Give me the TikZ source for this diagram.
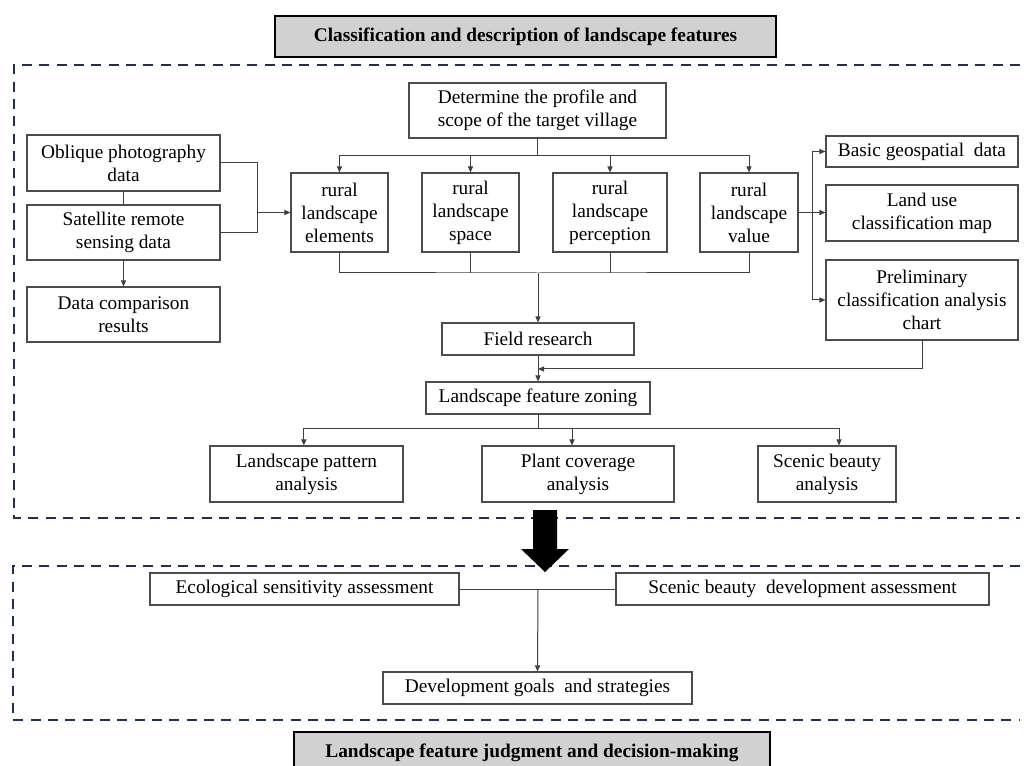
\documentclass[tikz,border=0pt]{standalone}
\usepackage{fontspec}
\setmainfont{Liberation Serif}
\usetikzlibrary{arrows.meta}
\definecolor{navy}{RGB}{31,48,80}
\begin{document}
\begin{tikzpicture}[x=0.75pt,y=-0.75pt,
  box/.style={draw=black!70, line width=0.8pt, fill=white, align=center, inner sep=0pt,
    font=\fontsize{14.5}{17.3}\selectfont},
  bx/.style 2 args={minimum width=#1*0.75pt, minimum height=#2*0.75pt},
  conn/.style={draw=black!75, line width=0.75pt},
  arr/.style={conn, -{Triangle[length=4.5pt,width=3.8pt]}},
  dbox/.style={draw=navy, line width=1.6pt, dash pattern=on 7.5pt off 5.5pt},
  titlebox/.style={draw=black, line width=1.6pt, fill=black!18, inner sep=0pt,
    font=\bfseries\fontsize{14.5}{17}\selectfont},
]
\useasboundingbox (0,0) rectangle (1024,766);
% dashed frames (open on the right)
\draw[dbox] (1020,65) -- (14,65) -- (14,518) -- (1020,518);
\draw[dbox] (1020,566) -- (13,566) -- (13,720) -- (1020,720);
% titles
\node[titlebox, bx={501}{41}] (t1) at (525.5,36.5) {Classification and description of landscape features};
\node[titlebox, bx={476}{41}] (t2) at (532,752.5) {Landscape feature judgment and decision-making};
% nodes
\node[box, bx={257}{55}] (det) at (537.5,110.5) {Determine the profile and\\scope of the target village};
\node[box, bx={193}{56}] (obl) at (123.5,163) {Oblique photography\\data};
\node[box, bx={193}{55}] (sat) at (123.5,232.5) {Satellite remote\\sensing data};
\node[box, bx={193}{55}] (dc) at (123.5,314.5) {Data comparison\\results};
\node[box, bx={97}{79}] (e1) at (339.5,212.5) {rural\\landscape\\elements};
\node[box, bx={97}{79}] (e2) at (470.5,212.5) {rural\\landscape\\space};
\node[box, bx={114}{79}] (e3) at (610,212.5) {rural\\landscape\\perception};
\node[box, bx={98}{79}] (e4) at (749,212.5) {rural\\landscape\\value};
\node[box, bx={192}{31}] (geo) at (922,151.5) {Basic geospatial\ \ data};
\node[box, bx={192}{56}] (lu) at (922,213) {Land use\\classification map};
\node[box, bx={192}{80}] (pre) at (922,300) {Preliminary\\classification analysis\\chart};
\node[box, bx={192}{32}] (fr) at (538,339) {Field research};
\node[box, bx={224}{32}] (zon) at (538,398) {Landscape feature zoning};
\node[box, bx={193}{56}] (p1) at (306.5,474) {Landscape pattern\\analysis};
\node[box, bx={192}{56}] (p2) at (578,474) {Plant coverage\\analysis};
\node[box, bx={138}{56}] (p3) at (827,474) {Scenic beauty\\analysis};
\node[box, bx={309}{32}] (eco) at (304.5,589) {Ecological sensitivity assessment};
\node[box, bx={373}{32}] (sdev) at (802.5,589) {Scenic beauty\ \ development assessment};
\node[box, bx={309}{32}] (dg) at (537.5,688) {Development goals\ \ and strategies};
% connectors: top fan
\draw[arr] (det.south) -- ++(0,17) -| (e1.north);
\draw[arr] (det.south) -- ++(0,17) -| (e2.north);
\draw[arr] (det.south) -- ++(0,17) -| (e3.north);
\draw[arr] (det.south) -- ++(0,17) -| (e4.north);
% join below rural boxes
\coordinate (jb) at (538,273);
\draw[conn] (e1.south) |- (jb) -| (e4.south);
\draw[conn] (e2.south) -- (e2.south |- jb);
\draw[conn] (e3.south) -- (e3.south |- jb);
\draw[arr] (jb) -- (fr.north);
% left data
\coordinate (jl) at (257,212.5);
\draw[conn] (obl.east) -| (jl);
\draw[conn] (sat.east) -| (jl);
\draw[arr] (jl) -- (e1.west);
\draw[conn] (obl.south) -- (sat.north);
\draw[arr] (sat.south) -- (dc.north);
% right outputs
\coordinate (jr) at (812,212.5);
\draw[conn] (e4.east) -- (jr);
\draw[arr] (jr) |- (geo.west);
\draw[arr] (jr) -- (lu.west |- jr);
\draw[arr] (jr) |- (pre.west);
% preliminary back to main line
\coordinate (jz) at (538,369);
\draw[arr] (pre.south) |- (jz);
\draw[arr] (fr.south) -- (zon.north);
% zoning fan
\draw[arr] (zon.south) -- ++(0,14) -| ([xshift=-2pt]p1.north);
\draw[arr] (zon.south) -- ++(0,14) -| ([xshift=-4.5pt]p2.north);
\draw[arr] (zon.south) -- ++(0,14) -| ([xshift=9pt]p3.north);
% block arrow
\fill[black] (533,510) -- (557,510) -- (557,549) -- (569,549) -- (545,572) -- (521,549) -- (533,549) -- cycle;
% bottom part
\coordinate (jm) at (538,589);
\draw[conn] (eco.east) -- (sdev.west);
\draw[arr] (jm) -- (dg.north);
\end{tikzpicture}
\end{document}
